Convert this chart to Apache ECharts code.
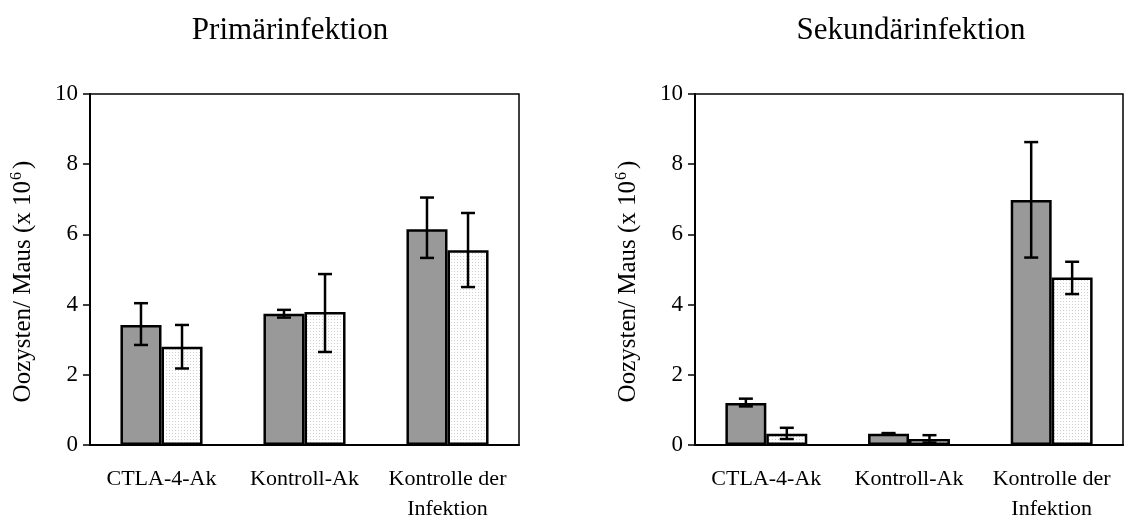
<!DOCTYPE html>
<html>
<head>
<meta charset="utf-8">
<script src="https://cdn.jsdelivr.net/npm/echarts@6/dist/echarts.min.js"></script>
<style>
  html, body { margin: 0; padding: 0; background: #fff; }
  #chart { width: 1124px; height: 521px; }
</style>
</head>
<body>
<div id="chart"></div>
<script>
// Categories on both panels
const categories = ['CTLA-4-Ak', 'Kontroll-Ak', 'Kontrolle der\nInfektion'];
const yTicks = [0, 2, 4, 6, 8, 10];

// Primärinfektion: means and error-bar limits (Oozysten/Maus, x10^6)
const primGray = [3.42, 3.74, 6.15];
const primGrayLow = [2.85, 3.63, 5.33];
const primGrayHigh = [4.04, 3.85, 7.05];
const primWhite = [2.80, 3.79, 5.55];
const primWhiteLow = [2.18, 2.65, 4.50];
const primWhiteHigh = [3.42, 4.87, 6.61];

// Sekundärinfektion
const sekGray = [1.20, 0.32, 6.98];
const sekGrayLow = [1.10, 0.30, 5.34];
const sekGrayHigh = [1.32, 0.34, 8.63];
const sekWhite = [0.32, 0.17, 4.77];
const sekWhiteLow = [0.17, 0.07, 4.30];
const sekWhiteHigh = [0.49, 0.28, 5.22];

const FONT = '"Liberation Serif", "Times New Roman", serif';
const BAR_FRAC = 0.287;

// light dotted fill for the open bars
function dotPattern() {
  const c = document.createElement('canvas');
  c.width = 3; c.height = 3;
  const ctx = c.getContext('2d');
  ctx.fillStyle = '#ffffff';
  ctx.fillRect(0, 0, 3, 3);
  ctx.fillStyle = '#cfcfcf';
  ctx.fillRect(1, 1, 1, 1);
  return c;
}
const dots = { image: dotPattern(), repeat: 'repeat' };

function errorSeries(idx, low, high, side) {
  return {
    type: 'custom',
    xAxisIndex: idx, yAxisIndex: idx,
    z: 10,
    data: low.map((l, i) => [i, l, high[i]]),
    renderItem: function (params, api) {
      const band = api.size([1, 0])[0];
      const off = side * band * BAR_FRAC / 2;
      const lo = api.coord([api.value(0), api.value(1)]);
      const hi = api.coord([api.value(0), api.value(2)]);
      const x = lo[0] + off;
      const cap = 7;
      const style = { stroke: '#000', lineWidth: 2.5 };
      return {
        type: 'group',
        children: [
          { type: 'line', shape: { x1: x, y1: lo[1], x2: x, y2: hi[1] }, style: style },
          { type: 'line', shape: { x1: x - cap, y1: lo[1], x2: x + cap, y2: lo[1] }, style: style },
          { type: 'line', shape: { x1: x - cap, y1: hi[1], x2: x + cap, y2: hi[1] }, style: style }
        ]
      };
    }
  };
}

function barSeries(idx, data, color) {
  return {
    type: 'bar',
    xAxisIndex: idx, yAxisIndex: idx,
    data: data,
    barWidth: (BAR_FRAC * 100) + '%',
    barGap: '0%',
    itemStyle: { color: color, borderColor: '#000', borderWidth: 2.5 },
    silent: true
  };
}

function xAxis(idx) {
  return {
    type: 'category',
    gridIndex: idx,
    data: categories,
    axisLine: { lineStyle: { color: '#000', width: 2 } },
    axisTick: { show: false },
    axisLabel: {
      interval: 0, hideOverlap: false,
      color: '#000', fontFamily: FONT, fontSize: 22, lineHeight: 30, margin: 19
    }
  };
}

function yAxis(idx) {
  return {
    type: 'value',
    gridIndex: idx,
    min: 0, max: 10, interval: 2,
    splitLine: { show: false },
    axisLine: { show: true, lineStyle: { color: '#000', width: 2 } },
    axisTick: { show: true, length: 7, lineStyle: { color: '#000', width: 1.5 } },
    axisLabel: {
      color: '#000', fontFamily: FONT, fontSize: 23, margin: 12,
      formatter: v => yTicks.includes(v) ? String(v) : ''
    },
    name: '{n|Oozysten/ Maus (x 10}{s|6}{n|)}',
    nameLocation: 'middle',
    nameGap: 52,
    nameRotate: 90,
    nameTextStyle: {
      padding: [0, 24, 0, 0],
      rich: {
        n: { fontFamily: FONT, fontSize: 25, color: '#000' },
        s: { fontFamily: FONT, fontSize: 16, color: '#000', verticalAlign: 'top', padding: [0, 3, 13, 1] }
      }
    }
  };
}

const chart = echarts.init(document.getElementById('chart'), null, { renderer: 'canvas' });
chart.setOption({
  backgroundColor: '#fff',
  animation: false,
  title: [
    { text: 'Primärinfektion', left: 285, top: 10, textAlign: 'center',
      textStyle: { fontFamily: FONT, fontSize: 31, fontWeight: 'normal', color: '#000' } },
    { text: 'Sekundärinfektion', left: 906, top: 10, textAlign: 'center',
      textStyle: { fontFamily: FONT, fontSize: 31, fontWeight: 'normal', color: '#000' } }
  ],
  grid: [
    { left: 90, right: 605, top: 94, bottom: 76, outerBoundsMode: 'none', show: true, borderColor: '#000', borderWidth: 1.5, backgroundColor: 'transparent' },
    { left: 695, right: 1, top: 94, bottom: 76, outerBoundsMode: 'none', show: true, borderColor: '#000', borderWidth: 1.5, backgroundColor: 'transparent' }
  ],
  xAxis: [xAxis(0), xAxis(1)],
  yAxis: [yAxis(0), yAxis(1)],
  series: [
    barSeries(0, primGray, '#999999'),
    barSeries(0, primWhite, dots),
    barSeries(1, sekGray, '#999999'),
    barSeries(1, sekWhite, dots),
    errorSeries(0, primGrayLow, primGrayHigh, -1),
    errorSeries(0, primWhiteLow, primWhiteHigh, 1),
    errorSeries(1, sekGrayLow, sekGrayHigh, -1),
    errorSeries(1, sekWhiteLow, sekWhiteHigh, 1)
  ]
});
</script>
</body>
</html>
